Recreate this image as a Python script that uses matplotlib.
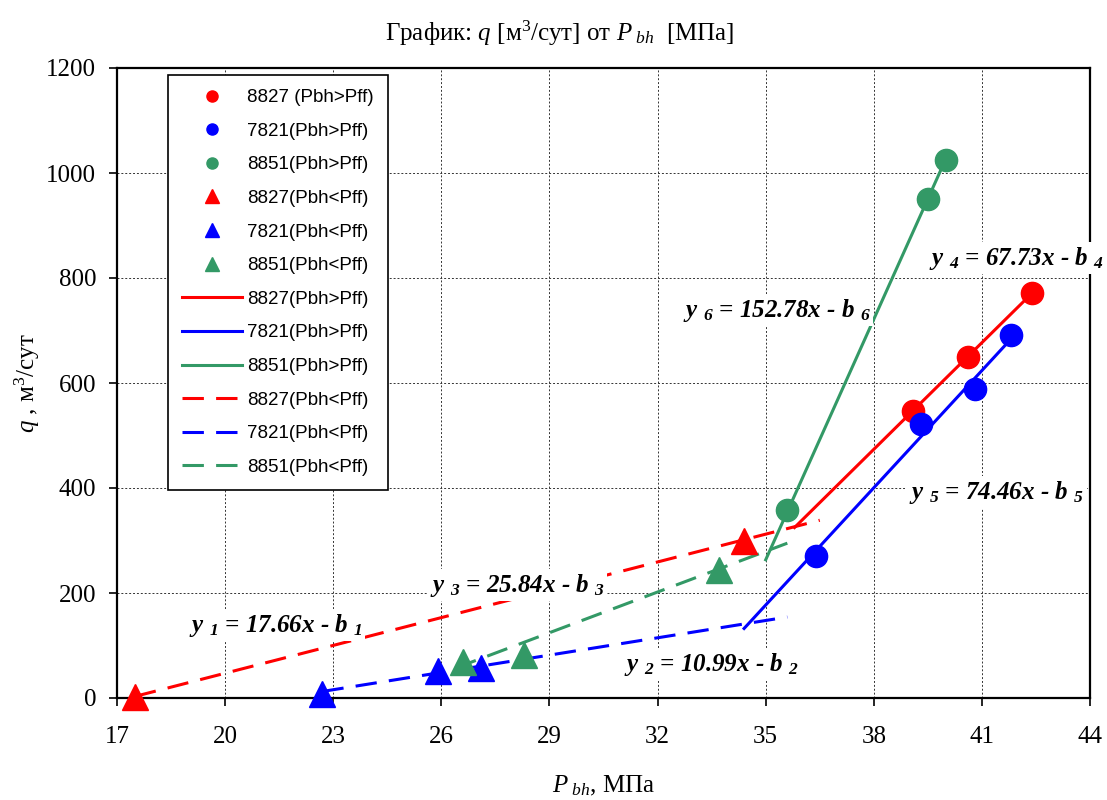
import numpy as np
import matplotlib.pyplot as plt

plt.rcParams['font.family'] = ['Liberation Serif', 'DejaVu Serif']
plt.rcParams['mathtext.fontset'] = 'custom'
plt.rcParams['mathtext.rm'] = 'Liberation Serif'
plt.rcParams['mathtext.it'] = 'Liberation Serif:italic'
plt.rcParams['mathtext.bf'] = 'Liberation Serif:bold'
plt.rcParams['mathtext.bfit'] = 'Liberation Serif:bold:italic'

red, blue, green = '#ff0000', '#0000ff', '#339966'

# measured points, Pbh > Pff
p_8827_hi = [39.1, 40.6, 42.4]
q_8827_hi = [547, 650, 771]
p_7821_hi = [36.4, 39.3, 40.8, 41.8]
q_7821_hi = [270, 522, 589, 691]
p_8851_hi = [35.6, 39.5, 40.0]
q_8851_hi = [358, 950, 1025]

# measured points, Pbh < Pff
p_8827_lo = [17.5, 34.4]
q_8827_lo = [2, 300]
p_7821_lo = [22.7, 25.9, 27.1]
q_7821_lo = [8, 52, 57]
p_8851_lo = [26.6, 28.3, 33.7]
q_8851_lo = [69, 82, 244]

# trend lines y = k*x - b
k_lines = [17.66, 10.99, 25.84, 67.73, 74.46, 152.78]
b_lines = [306, 237, 625, 2100, 2429, 5084]
x_from = [17.5, 22.7, 26.4, 35.8, 34.4, 35.0]
x_to = [36.5, 35.6, 35.6, 42.4, 41.8, 40.0]
line_colors = [red, blue, green, red, blue, green]
line_labels = ['8827(Pbh<Pff)', '7821(Pbh<Pff)', '8851(Pbh<Pff)',
               '8827(Pbh>Pff)', '7821(Pbh>Pff)', '8851(Pbh>Pff)']

fig = plt.figure(figsize=(11.07, 8), dpi=100)
ax = fig.add_axes([0.1057, 0.1275, 0.879, 0.7875])

lines = []
for i in range(6):
    xs = np.array([x_from[i], x_to[i]])
    ys = k_lines[i] * xs - b_lines[i]
    if i < 3:
        ln, = ax.plot(xs, ys, color=line_colors[i], lw=2.2, dashes=(7, 4),
                      label=line_labels[i], zorder=3)
    else:
        ln, = ax.plot(xs, ys, color=line_colors[i], lw=2.2,
                      label=line_labels[i], zorder=3)
    lines.append(ln)

m1, = ax.plot(p_8827_hi, q_8827_hi, 'o', color=red, ms=16, label='8827 (Pbh>Pff)', zorder=4, clip_on=False)
m2, = ax.plot(p_7821_hi, q_7821_hi, 'o', color=blue, ms=16, label='7821(Pbh>Pff)', zorder=4, clip_on=False)
m3, = ax.plot(p_8851_hi, q_8851_hi, 'o', color=green, ms=16, label='8851(Pbh>Pff)', zorder=4, clip_on=False)
m4, = ax.plot(p_8827_lo, q_8827_lo, '^', color=red, ms=19, label='8827(Pbh<Pff)', zorder=4, clip_on=False)
m5, = ax.plot(p_7821_lo, q_7821_lo, '^', color=blue, ms=19, label='7821(Pbh<Pff)', zorder=4, clip_on=False)
m6, = ax.plot(p_8851_lo, q_8851_lo, '^', color=green, ms=19, label='8851(Pbh<Pff)', zorder=4, clip_on=False)

ax.set_xlim(17, 44)
ax.set_ylim(0, 1200)
ax.set_xticks(range(17, 45, 3))
ax.set_yticks(range(0, 1201, 200))
ax.tick_params(direction='out', length=6, width=1.2, labelsize=18)
ax.tick_params(axis='x', pad=14)
ax.tick_params(axis='y', pad=9)
ax.grid(True, linestyle=(0, (2, 2)), color='#333333', lw=0.7, zorder=0)
for s in ax.spines.values():
    s.set_linewidth(1.6)

fig.text(0.506, 0.958, 'График: $q$ [м$^3$/сут] от $P_{\\ bh}$  [МПа]', fontsize=18,
         ha='center', va='center')
ax.set_xlabel('$P_{\\ bh}$, МПа', fontsize=18, labelpad=19)
ax.set_ylabel('$q$ , м$^3$/сут', fontsize=18, labelpad=3)

handles = [m1, m2, m3, m4, m5, m6, lines[3], lines[4], lines[5], lines[0], lines[1], lines[2]]
leg = ax.legend(handles=handles, loc='upper left', bbox_to_anchor=(0.052, 0.989),
                borderaxespad=0, fancybox=False, framealpha=1, edgecolor='black',
                markerscale=0.5, handlelength=3.2, handletextpad=0.3,
                labelspacing=0.88, borderpad=0.75,
                prop={'family': 'Liberation Sans', 'size': 13.5})
leg.get_frame().set_linewidth(1.2)
leg.set_zorder(6)

eq_text = ['y $_{\\mathbfit{1}}$ = 17.66x - b $_{\\mathbfit{1}}$',
           'y $_{\\mathbfit{2}}$ = 10.99x - b $_{\\mathbfit{2}}$',
           'y $_{\\mathbfit{3}}$ = 25.84x - b $_{\\mathbfit{3}}$',
           'y $_{\\mathbfit{4}}$ = 67.73x - b $_{\\mathbfit{4}}$',
           'y $_{\\mathbfit{5}}$ = 74.46x - b $_{\\mathbfit{5}}$',
           'y $_{\\mathbfit{6}}$ = 152.78x - b $_{\\mathbfit{6}}$']
eq_x = [21.4, 33.5, 28.1, 41.95, 41.4, 35.3]
eq_y = [139, 63, 215, 838, 392, 739]
for t, x, y in zip(eq_text, eq_x, eq_y):
    ax.text(x, y, t, ha='center', va='center', fontsize=18, fontweight='bold',
            fontstyle='italic', zorder=5,
            bbox=dict(facecolor='white', edgecolor='none', pad=2))

fig.savefig('out.png', dpi=100)
